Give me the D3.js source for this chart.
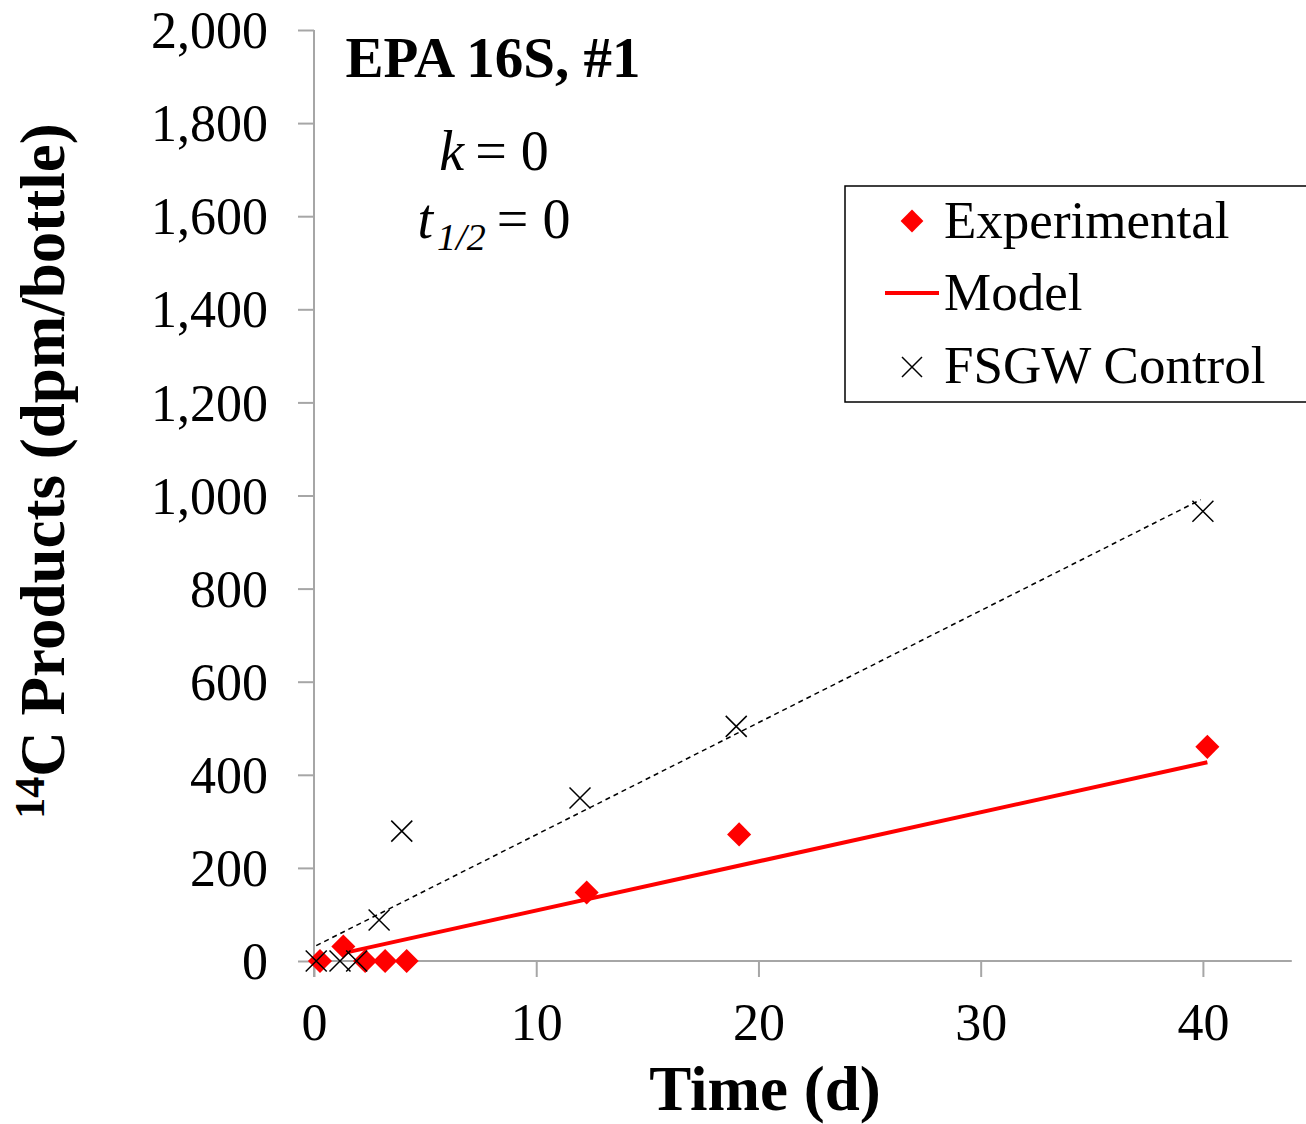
<!DOCTYPE html>
<html>
<head>
<meta charset="utf-8">
<script src="https://cdn.jsdelivr.net/npm/d3@7"></script>
<style>
	html, body { margin: 0; padding: 0; background: #fff; }
	svg { display: block; font-family: "Liberation Serif", "Times New Roman", serif; }
</style>
</head>
<body>
<div id="chart"></div>
<script>
/* experimental points (time in d, dpm/bottle) */
const expTime = [0.27, 1.32, 2.3, 3.2, 4.17, 12.27, 19.13, 40.2];
const expValue = [0, 31, 0, 0, 0, 147, 272, 460];

/* model curve */
const modelTime = [1.32, 40.2];
const modelValue = [17, 427];

/* FSGW control points and their trend line */
const ctrlTime = [0.1, 1.17, 1.92, 2.93, 3.95, 11.97, 19.0, 40.0];
const ctrlValue = [0, 0, 0, 88, 279, 350, 504, 966];
const ctrlFitTime = [0.1, 39.9];
const ctrlFitValue = [33, 991];

const xTicks = [0, 10, 20, 30, 40];
const yTicks = [0, 200, 400, 600, 800, 1000, 1200, 1400, 1600, 1800, 2000];

const W = 1306, H = 1124;
const AXIS = "#a6a6a6";

const svg = d3.select("#chart").append("svg")
	.attr("width", W)
	.attr("height", H);

const x = d3.scaleLinear().domain([0, 44]).range([314, 1291.8]);
const y = d3.scaleLinear().domain([0, 2000]).range([961, 30]);

/* axes */
const xAxis = svg.append("g")
	.attr("transform", `translate(0,${y(0)})`)
	.call(d3.axisBottom(x).tickValues(xTicks).tickSize(16).tickFormat(d3.format("d")));
const yAxis = svg.append("g")
	.attr("transform", `translate(${x(0)},0)`)
	.call(d3.axisLeft(y).tickValues(yTicks).tickSize(16).tickFormat(d3.format(",")));

[xAxis, yAxis].forEach((ax) => {
	ax.select(".domain").remove();
	ax.selectAll(".tick line").attr("stroke", AXIS).attr("stroke-width", 2);
	ax.selectAll(".tick text")
		.attr("fill", "#000")
		.attr("font-family", "Liberation Serif")
		.attr("font-size", "52px");
});
xAxis.selectAll(".tick text").attr("dy", null).attr("y", 79);
yAxis.selectAll(".tick text").attr("dy", "0.34em").attr("x", -46);

/* axis lines drawn separately so they overlap like the original */
svg.append("line")
	.attr("x1", x(0)).attr("x2", x(44))
	.attr("y1", y(0)).attr("y2", y(0))
	.attr("stroke", AXIS).attr("stroke-width", 2);
svg.append("line")
	.attr("x1", x(0)).attr("x2", x(0))
	.attr("y1", y(2000)).attr("y2", y(0) + 16)
	.attr("stroke", AXIS).attr("stroke-width", 2);

const line = d3.line().x((d) => x(d[0])).y((d) => y(d[1]));

/* control trend (dashed) */
svg.append("path")
	.attr("d", line(d3.zip(ctrlFitTime, ctrlFitValue)))
	.attr("fill", "none")
	.attr("stroke", "#000")
	.attr("stroke-width", 1.5)
	.attr("stroke-dasharray", "5,4");

/* model (red) */
svg.append("path")
	.attr("d", line(d3.zip(modelTime, modelValue)))
	.attr("fill", "none")
	.attr("stroke", "#ff0000")
	.attr("stroke-width", 4);

const diamond = d3.symbol().type(d3.symbolSquare).size(290);

svg.append("g").selectAll("path")
	.data(d3.zip(expTime, expValue))
	.enter()
	.append("path")
		.attr("d", diamond)
		.attr("fill", "#ff0000")
		.attr("transform", (d) => `translate(${x(d[0])},${y(d[1])}) rotate(45)`);

const cross = (g, s) => g.append("path")
	.attr("d", `M${-s},${-s}L${s},${s}M${-s},${s}L${s},${-s}`)
	.attr("stroke", "#000")
	.attr("stroke-width", 1.5)
	.attr("fill", "none");

svg.append("g").selectAll("g")
	.data(d3.zip(ctrlTime, ctrlValue))
	.enter()
	.append("g")
		.attr("transform", (d) => `translate(${x(d[0])},${y(d[1])})`)
		.each(function() { cross(d3.select(this), 10.5); });

/* titles */
svg.append("text")
	.attr("x", 493).attr("y", 77)
	.attr("text-anchor", "middle")
	.attr("font-size", "57px").attr("font-weight", "bold")
	.text("EPA 16S, #1");

const kTxt = svg.append("text")
	.attr("x", 494).attr("y", 170)
	.attr("text-anchor", "middle")
	.attr("font-size", "56px");
kTxt.append("tspan").attr("font-style", "italic").text("k");
kTxt.append("tspan").text("\u2009= 0");

const tTxt = svg.append("text")
	.attr("x", 494).attr("y", 238)
	.attr("text-anchor", "middle")
	.attr("font-size", "56px");
tTxt.append("tspan").attr("font-style", "italic").text("t");
tTxt.append("tspan").attr("font-style", "italic").attr("font-size", "38px").attr("dy", 12).attr("dx", 4).text("1/2");
tTxt.append("tspan").attr("dy", -12).text("\u2009= 0");

svg.append("text")
	.attr("x", 765).attr("y", 1110)
	.attr("text-anchor", "middle")
	.attr("font-size", "63px").attr("font-weight", "bold")
	.text("Time (d)");

const yTitle = svg.append("text")
	.attr("transform", "translate(64,471) rotate(-90)")
	.attr("text-anchor", "middle")
	.attr("font-size", "63px").attr("font-weight", "bold");
yTitle.append("tspan").attr("font-size", "42px").attr("dy", -20).text("14");
yTitle.append("tspan").attr("dy", 20).text("C Products (dpm/bottle)");

/* legend */
const legend = svg.append("g");
legend.append("rect")
	.attr("x", 845).attr("y", 186)
	.attr("width", 480).attr("height", 216)
	.attr("fill", "#fff")
	.attr("stroke", "#000")
	.attr("stroke-width", 1.5);

legend.append("path")
	.attr("d", d3.symbol().type(d3.symbolSquare).size(260))
	.attr("fill", "#ff0000")
	.attr("transform", "translate(912,221) rotate(45)");
legend.append("line")
	.attr("x1", 885).attr("x2", 939)
	.attr("y1", 293).attr("y2", 293)
	.attr("stroke", "#ff0000").attr("stroke-width", 4);
cross(legend.append("g").attr("transform", "translate(912,367)"), 10);

const legendItems = ["Experimental", "Model", "FSGW Control"];
const legendBase = [238, 310, 383];
legend.selectAll("text.item")
	.data(legendItems)
	.enter()
	.append("text")
		.attr("class", "item")
		.attr("x", 944)
		.attr("y", (d, i) => legendBase[i])
		.attr("font-size", "53px")
		.text((d) => d);
</script>
</body>
</html>
